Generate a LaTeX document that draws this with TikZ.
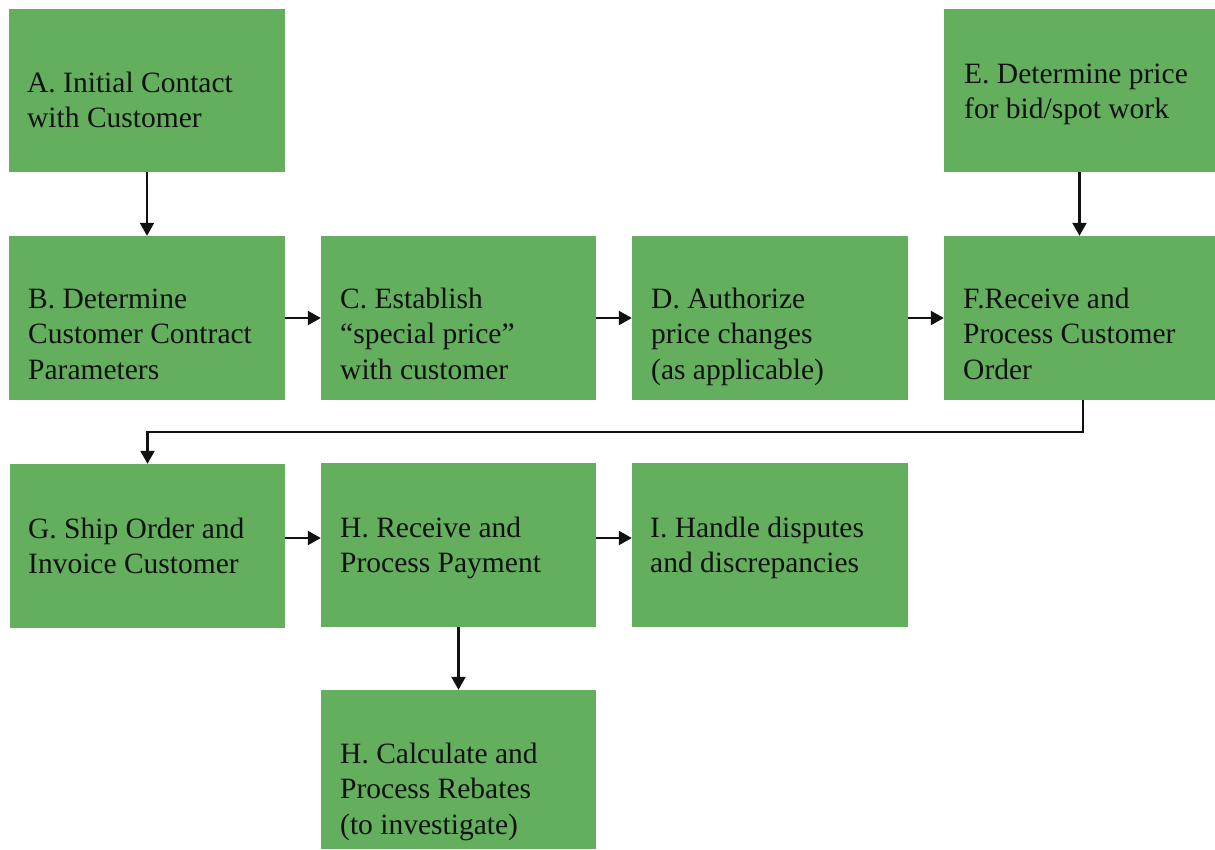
\documentclass[tikz,border=0pt]{standalone}
\usepackage{fontspec}
\setmainfont{Liberation Serif}
\usetikzlibrary{arrows.meta}
\definecolor{boxgreen}{HTML}{63AF5D}
\definecolor{ink}{HTML}{111111}
\newcommand{\topstrut}{\rule{0pt}{25pt}}
\begin{document}
\begin{tikzpicture}[x=1pt,y=-1pt,
  box/.style={draw=none,fill=boxgreen,inner sep=0pt,minimum width=#1},
  box/.default=276pt,
  txt/.style={anchor=north west,inner sep=0pt,align=left,text=ink,
    font=\fontsize{29.5}{35.5}\selectfont},
  arr/.style={draw=ink,line width=2.2pt,-{Triangle[length=13pt,width=14pt]}}]
\useasboundingbox[fill=white] (0,0) rectangle (1215,849);
% boxes
\node[box=276pt,minimum height=163pt] (a) at (147,90.5) {};
\node[box=276pt,minimum height=164pt] (b) at (147,318) {};
\node[box=275pt,minimum height=164pt] (c) at (458.5,318) {};
\node[box=276pt,minimum height=164pt] (d) at (770,318) {};
\node[box=271pt,minimum height=163pt] (e) at (1079.5,90.5) {};
\node[box=271pt,minimum height=164pt] (f) at (1079.5,318) {};
\node[box=275pt,minimum height=164pt] (g) at (147.5,546) {};
\node[box=275pt,minimum height=164pt] (h) at (458.5,545) {};
\node[box=276pt,minimum height=164pt] (i) at (770,545) {};
\node[box=275pt,minimum height=159pt] (h2) at (458.5,769.5) {};
% texts
\node[txt] (ta) at (27,67) {\topstrut A. Initial Contact\\with Customer};
\node[txt] (tb) at (28,283) {\topstrut B. Determine\\Customer Contract\\Parameters};
\node[txt] (tc) at (340,283) {\topstrut C. Establish\\``special price''\\with customer};
\node[txt] (td) at (651,283) {\topstrut D. Authorize\\price changes\\(as applicable)};
\node[txt] (te) at (964,58) {\topstrut E. Determine price\\for bid/spot work};
\node[txt] (tf) at (963,283) {\topstrut F.Receive and\\Process Customer\\Order};
\node[txt] (tg) at (28,513) {\topstrut G. Ship Order and\\Invoice Customer};
\node[txt] (th) at (340,512) {\topstrut H. Receive and\\Process Payment};
\node[txt] (ti) at (650,512) {\topstrut I. Handle disputes\\and discrepancies};
\node[txt] (th2) at (340,738) {\topstrut H. Calculate and\\Process Rebates\\(to investigate)};
% connectors
\coordinate (r3) at (0,538);
\coordinate (fx) at (1083,0);
\draw[arr] (a.south) -- (b.north);
\draw[arr] (e.south) -- (f.north);
\draw[arr] (b.east) -- (c.west);
\draw[arr] (c.east) -- (d.west);
\draw[arr] (d.east) -- (f.west);
\draw[arr] (f.south -| fx) -- ++(0,32) -| (g.north);
\draw[arr] (g.east |- r3) -- (h.west |- r3);
\draw[arr] (h.east |- r3) -- (i.west |- r3);
\draw[arr] (h.south) -- (h2.north);
\end{tikzpicture}
\end{document}
